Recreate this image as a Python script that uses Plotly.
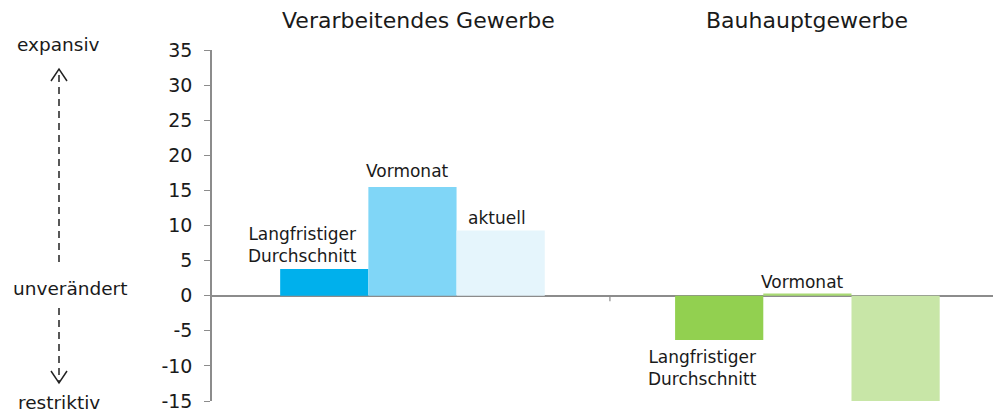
import plotly.graph_objects as go

# data
sectors = ["Verarbeitendes Gewerbe", "Bauhauptgewerbe"]
series_names = ["Langfristiger Durchschnitt", "Vormonat", "aktuell"]
long_avg = [3.8, -6.3]
prev_month = [15.5, 0.3]
current = [9.3, -15.0]
y_ticks = [-15, -10, -5, 0, 5, 10, 15, 20, 25, 30, 35]
y_ticktext = [str(v) for v in y_ticks]

BLUES = ["#00b0ec", "#80d6f7", "#e5f5fc"]
GREENS = ["#92d050", "#a9da74", "#c8e6a7"]
TEXT = "#1a1a1a"
AXIS = "#8c8c8c"
FONT = "DejaVu Sans, sans-serif"

xs = list(range(len(sectors)))
fig = go.Figure()
for i, (name, vals) in enumerate(zip(series_names, [long_avg, prev_month, current])):
    fig.add_trace(go.Bar(
        x=xs, y=vals, name=name,
        marker=dict(color=[BLUES[i], GREENS[i]], line=dict(width=0)),
        hoverinfo="skip",
    ))

# bar width per trace in data units (group width = 1 - bargap)
bargap = 0.33
w = (1 - bargap) / 3

def bar_label(x, y, text, anchor, yshift, xshift=0):
    fig.add_annotation(x=x, y=y, text=text, showarrow=False,
                       xanchor="center", yanchor=anchor,
                       yshift=yshift, xshift=xshift, align="center",
                       font=dict(family=FONT, size=17, color=TEXT))

bar_label(xs[0] - w, long_avg[0], "Langfristiger<br>Durchschnitt", "bottom", 1, -22)
bar_label(xs[0], prev_month[0], "Vormonat", "bottom", 4, -5)
bar_label(xs[0] + w, current[0], "aktuell", "bottom", 0, -4)
bar_label(xs[1] - w, long_avg[1], "Langfristiger<br>Durchschnitt", "top", -5, -17)
bar_label(xs[1], prev_month[1], "Vormonat", "bottom", 0, -5)

# sector titles
for x, s in zip(xs, sectors):
    fig.add_annotation(x=x, y=1, yref="paper", text=s, showarrow=False,
                       yanchor="bottom", yshift=15, xshift=6 if x == 0 else 0,
                       font=dict(family=FONT, size=22, color=TEXT))

# category divider tick on zero line
fig.add_shape(type="line", x0=0.5, x1=0.5, y0=0, y1=-0.8, xref="x", yref="y",
              line=dict(color=AXIS, width=1.2))

# left-side direction labels (pixel helpers, paper coords)
def px_x(px):
    return (px - 212) / 781

def px_y(py):
    return (401 - py) / 351

for text, cx, py in [("expansiv", 58, 45), ("unverändert", 70, 288), ("restriktiv", 59, 403)]:
    fig.add_annotation(x=px_x(cx), xref="paper", y=px_y(py), yref="paper",
                       text=text, showarrow=False, xanchor="center", yanchor="middle",
                       font=dict(family=FONT, size=18.5, color=TEXT))

ax = px_x(59)
for y0, y1 in [(262, 69), (308, 383)]:
    fig.add_shape(type="line", xref="paper", yref="paper", x0=ax, x1=ax,
                  y0=px_y(y0), y1=px_y(y1),
                  line=dict(color="#222222", width=1.5, dash="7px,5px"))
    d = 12 if y1 < y0 else -12
    fig.add_shape(type="path", xref="paper", yref="paper",
                  path=f"M {px_x(51)},{px_y(y1 + d)} L {ax},{px_y(y1)} L {px_x(67)},{px_y(y1 + d)}",
                  line=dict(color="#222222", width=1.5))

fig.update_layout(
    width=993, height=413,
    barmode="group", bargap=bargap, bargroupgap=0,
    showlegend=False,
    plot_bgcolor="white", paper_bgcolor="white",
    margin=dict(l=212, r=0, t=50, b=12),
    xaxis=dict(range=[-0.5 - 3 / 395, 1.47], showticklabels=False, showgrid=False,
               zeroline=False, showline=False, ticks=""),
    yaxis=dict(range=[-15, 35], tickvals=y_ticks, ticktext=y_ticktext, showgrid=False,
               zeroline=True, zerolinecolor=AXIS, zerolinewidth=1.5,
               showline=True, linecolor=AXIS, linewidth=1.5,
               ticks="outside", ticklen=6, tickcolor=AXIS, tickwidth=1.2,
               ticklabelstandoff=8,
               tickfont=dict(family=FONT, size=19, color=TEXT)),
)

fig.write_html("out.html", config={"displayModeBar": False},
               post_script="document.body.style.margin='0';")
